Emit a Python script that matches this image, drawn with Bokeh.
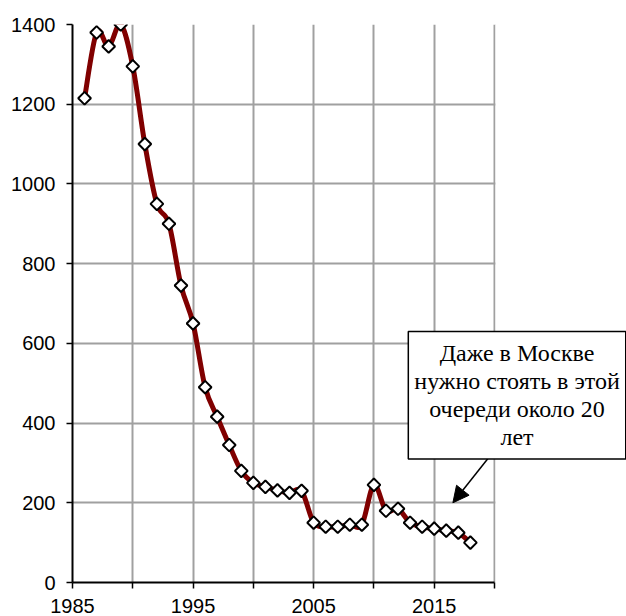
from bokeh.plotting import figure
from bokeh.models import FixedTicker, Label, Arrow, NormalHead, Range1d, BoxAnnotation
from bokeh.embed import file_html
from bokeh.resources import INLINE

years = list(range(1986, 2019))
values = [1215, 1380, 1345, 1400, 1295, 1100, 950, 900, 745, 650,
          490, 416, 345, 280, 250, 240, 231, 225, 230, 150,
          140, 140, 145, 145, 245, 180, 185, 150, 140, 135,
          130, 125, 100]
x_ticks = [1985, 1990, 1995, 2000, 2005, 2010, 2015, 2020]
x_labels = {1985: "1985", 1990: "", 1995: "1995", 2000: "", 2005: "2005",
            2010: "", 2015: "2015", 2020: ""}
y_ticks = [0, 200, 400, 600, 800, 1000, 1200, 1400]
note_text = "Даже в Москве\nнужно стоять в этой\nочереди около 20\nлет"

p = figure(width=626, height=616, output_backend="svg", toolbar_location=None,
           x_range=Range1d(1985, 2030.95), y_range=Range1d(0, 1400),
           min_border_left=72, min_border_right=0, min_border_top=24,
           min_border_bottom=34)
p.background_fill_color = "white"
p.border_fill_color = "white"
p.outline_line_color = None

for ax, ticks in ((p.xaxis[0], x_ticks), (p.yaxis[0], y_ticks)):
    ax.ticker = FixedTicker(ticks=ticks)
    ax.axis_line_color = "black"
    ax.axis_line_width = 2
    ax.major_tick_line_color = "black"
    ax.major_tick_line_width = 1.5
    ax.major_tick_in = 0
    ax.major_tick_out = 6
    ax.minor_tick_line_color = None
    ax.major_label_text_font = "Liberation Sans"
    ax.major_label_text_font_size = "20px"
    ax.major_label_text_color = "black"
p.xaxis[0].bounds = (1985, 2020)
p.xaxis[0].major_label_overrides = x_labels
p.xaxis[0].major_label_standoff = 10
p.yaxis[0].major_label_standoff = 11

p.xgrid.ticker = FixedTicker(ticks=x_ticks)
p.ygrid.ticker = FixedTicker(ticks=y_ticks)
for g in (p.xgrid, p.ygrid):
    g.grid_line_color = "#a0a0a0"
    g.grid_line_width = 2

# white area right of the plot box (hides grid lines beyond 2020)
p.add_layout(BoxAnnotation(left=2020.08, fill_color="white", fill_alpha=1.0,
                           line_color=None, level="underlay"))

# smoothed line (Bezier segments through the data points)
n = len(years)
x0, y0, x1, y1, cx0, cy0, cx1, cy1 = [], [], [], [], [], [], [], []
for i in range(n - 1):
    xm, ym = years[max(i - 1, 0)], values[max(i - 1, 0)]
    xa, ya = years[i], values[i]
    xb, yb = years[i + 1], values[i + 1]
    xp, yp = years[min(i + 2, n - 1)], values[min(i + 2, n - 1)]
    x0.append(xa); y0.append(ya); x1.append(xb); y1.append(yb)
    cx0.append(xa + (xb - xm) / 6.0); cy0.append(ya + (yb - ym) / 6.0)
    cx1.append(xb - (xp - xa) / 6.0); cy1.append(yb - (yp - ya) / 6.0)
p.bezier(x0=x0, y0=y0, x1=x1, y1=y1, cx0=cx0, cy0=cy0, cx1=cx1, cy1=cy1,
         line_color="#800000", line_width=5)

p.scatter(years, values, marker="square", size=9, angle=0.785398,
          fill_color="white", line_color="black", line_width=2)

p.add_layout(Arrow(end=NormalHead(size=16, fill_color="black", line_color="black"),
                   x_start=2019.46, y_start=311, x_end=2016.55, y_end=200,
                   line_color="black", line_width=1.5))

p.add_layout(Label(x=2021.87, y=470, text=note_text, text_align="center",
                   text_baseline="middle", text_font="Liberation Serif",
                   text_font_size="24px", text_line_height=1.07, text_color="black",
                   background_fill_color="white", border_line_color="black",
                   border_line_width=1.5, padding=(6, 9)))

open("out.html", "w").write(file_html(p, INLINE))
